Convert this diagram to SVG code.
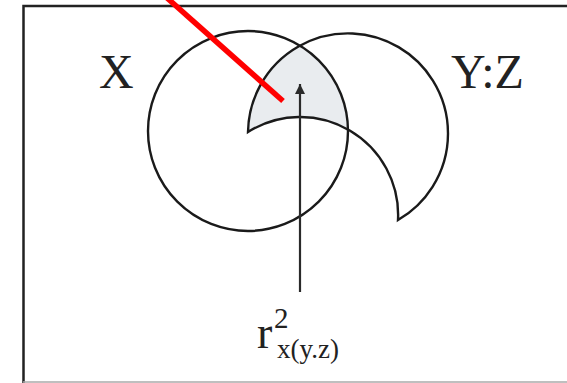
<svg xmlns="http://www.w3.org/2000/svg" width="567" height="383" viewBox="0 0 567 383">
<style>
.ol{fill:none;stroke:#1a1a1a;stroke-width:2.4}
.lbl{font-family:"Liberation Serif","Times New Roman",serif;fill:#222}
</style>
<defs>
<marker id="ah" viewBox="0 0 10 16" refX="10" refY="8" markerWidth="10" markerHeight="16" markerUnits="userSpaceOnUse" orient="auto">
<path d="M0,3 L10,8 L0,13 Z" fill="#2a2a2a"/>
</marker>
</defs>
<rect x="0" y="0" width="567" height="383" fill="#ffffff"/>
<g id="frame">
<path d="M23.5,383 L23.5,6 L567,6" fill="none" stroke="#222" stroke-width="2.5"/>
<line x1="23" y1="382" x2="567" y2="382" stroke="#aaa" stroke-width="1.5"/>
</g>
<g id="shaded">
<path d="M298.5,45 A100,100 0 0,0 248,132 A98,98 0 0,1 348,129.3 A100,100 0 0,0 298.5,45 Z" fill="#e9ecef"/>
</g>
<g id="X">
<circle class="ol" cx="248" cy="131" r="100"/>
<text class="lbl" x="99" y="88" font-size="48">X</text>
</g>
<g id="YZ">
<path class="ol" d="M248,132 A100,100 0 1,1 398,220 A98,98 0 0,0 248,132 Z" stroke-linejoin="miter"/>
<text class="lbl" x="451" y="88" font-size="48">Y:Z</text>
</g>
<g id="connectors">
<line x1="300" y1="292" x2="300" y2="84" stroke="#2a2a2a" stroke-width="2.2" marker-end="url(#ah)"/>
<line x1="166" y1="-3" x2="283" y2="101" stroke="#ff0000" stroke-width="5.5"/>
</g>
<g id="r2">
<text class="lbl" x="257" y="348" font-size="46">r</text>
<text class="lbl" x="274" y="328" font-size="29">2</text>
<text class="lbl" x="277" y="358" font-size="27">x(y.z)</text>
</g>
</svg>
